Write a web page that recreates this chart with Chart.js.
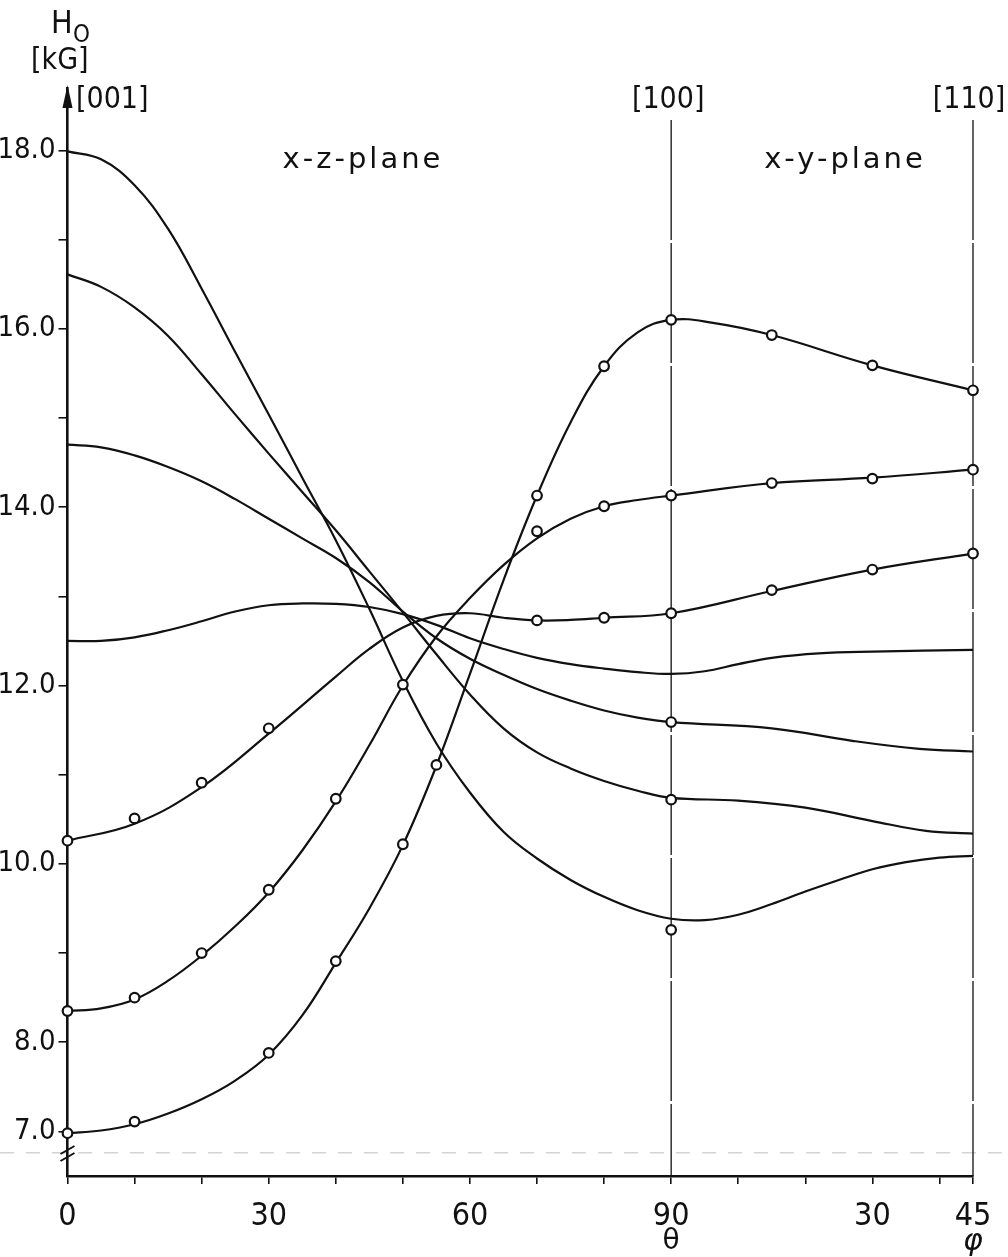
<!DOCTYPE html>
<html>
<head>
<meta charset="utf-8">
<script src="https://cdn.jsdelivr.net/npm/chart.js@4.4.1/dist/chart.umd.min.js"></script>
<style>
  html, body { margin: 0; padding: 0; background: #fff; }
  #wrap { width: 1008px; height: 1257px; }
</style>
</head>
<body>
<div id="wrap"><canvas id="chart" width="1008" height="1257"></canvas></div>
<script>
// x runs theta 0..90 (x-z-plane), then phi 0..45 (x-y-plane) drawn as 90..135
const xTicks = [0, 10, 20, 30, 40, 50, 60, 70, 80, 90, 100, 110, 120, 130, 135];
const xLabelAt = [0, 30, 60, 90, 120, 135];
const xLabelText = ['0', '30', '60', '90', '30', '45'];
const yTicks = [7, 8, 9, 10, 11, 12, 13, 14, 15, 16, 17, 18];
const yLabelAt = [7, 8, 10, 12, 14, 16, 18];

// drawn curves, H0 in kG
const curveA_x = [0, 5, 10, 15, 20, 25, 30, 35, 40, 45, 50, 55, 60, 65, 70, 75, 80, 85, 90, 95, 100, 105, 110, 115, 120, 125, 130, 135];
const curveA_y = [17.99, 17.9, 17.61, 17.12, 16.45, 15.74, 15.04, 14.33, 13.63, 12.86, 12.05, 11.35, 10.8, 10.36, 10.06, 9.82, 9.63, 9.48, 9.385, 9.37, 9.43, 9.55, 9.69, 9.82, 9.94, 10.02, 10.07, 10.09];

const curveB_x = [0, 5, 10, 15, 20, 25, 30, 35, 40, 45, 50, 55, 60, 65, 70, 75, 80, 85, 90, 100, 110, 120, 128, 135];
const curveB_y = [16.61, 16.47, 16.24, 15.92, 15.49, 15.04, 14.6, 14.17, 13.74, 13.28, 12.82, 12.35, 11.9, 11.52, 11.25, 11.07, 10.93, 10.82, 10.74, 10.71, 10.63, 10.48, 10.37, 10.34];

const curveC_x = [0, 5, 10, 15, 20, 25, 30, 35, 40, 45, 50, 55, 60, 65, 70, 75, 80, 85, 90, 105, 117, 127, 135];
const curveC_y = [14.7, 14.67, 14.58, 14.45, 14.29, 14.09, 13.87, 13.65, 13.43, 13.16, 12.83, 12.53, 12.3, 12.12, 11.96, 11.83, 11.72, 11.64, 11.59, 11.52, 11.38, 11.29, 11.26];

const curveD_x = [0, 5, 10, 15, 20, 25, 30, 35, 40, 45, 50, 55, 60, 65, 70, 75, 80, 85, 90, 95, 100, 105, 112, 120, 135];
const curveD_y = [12.5, 12.5, 12.54, 12.62, 12.72, 12.83, 12.9, 12.92, 12.915, 12.88, 12.8, 12.68, 12.53, 12.41, 12.31, 12.24, 12.19, 12.15, 12.13, 12.16, 12.24, 12.31, 12.36, 12.38, 12.4];

const curveE_x = [0, 10, 20, 30, 40, 45, 50, 55, 60, 65, 70, 75, 80, 90, 105, 120, 135];
const curveE_y = [10.26, 10.45, 10.86, 11.46, 12.1, 12.41, 12.65, 12.78, 12.81, 12.76, 12.73, 12.735, 12.76, 12.81, 13.06, 13.3, 13.48];

const curveF_x = [0, 5, 10, 15, 20, 25, 30, 35, 40, 45, 50, 55, 60, 65, 70, 75, 80, 85, 90, 105, 120, 135];
const curveF_y = [8.35, 8.38, 8.48, 8.69, 8.97, 9.3, 9.68, 10.15, 10.7, 11.33, 12.0, 12.55, 12.98, 13.35, 13.65, 13.87, 14.01, 14.08, 14.13, 14.27, 14.33, 14.42];

const curveG_x = [0, 5, 10, 15, 20, 25, 30, 35, 40, 45, 50, 55, 60, 65, 70, 75, 80, 85, 90, 96, 105, 120, 135];
const curveG_y = [6.98, 7.01, 7.08, 7.2, 7.36, 7.57, 7.86, 8.3, 8.89, 9.5, 10.21, 11.1, 12.13, 13.18, 14.13, 14.95, 15.58, 15.96, 16.1, 16.07, 15.93, 15.59, 15.31];

// measured points (open circles)
const pointsA_x = [90];
const pointsA_y = [9.26];
const pointsB_x = [90];
const pointsB_y = [10.72];
const pointsC_x = [90];
const pointsC_y = [11.59];
const pointsE_x = [0, 10, 20, 30, 70, 80, 90, 105, 120, 135];
const pointsE_y = [10.26, 10.51, 10.91, 11.52, 12.73, 12.76, 12.81, 13.07, 13.3, 13.48];
const pointsF_x = [0, 10, 20, 30, 40, 50, 70, 80, 90, 105, 120, 135];
const pointsF_y = [8.35, 8.5, 9.0, 9.71, 10.73, 12.01, 13.73, 14.01, 14.13, 14.27, 14.32, 14.42];
const pointsG_x = [0, 10, 30, 40, 50, 55, 70, 80, 90, 105, 120, 135];
const pointsG_y = [6.98, 7.11, 7.88, 8.91, 10.22, 11.11, 14.13, 15.58, 16.1, 15.93, 15.59, 15.31];

const narrow = '"Liberation Sans Narrow", "DejaVu Sans Condensed", "Liberation Sans", sans-serif';
const plain = '"DejaVu Sans", "Liberation Sans", sans-serif';

function pairs(xs, ys) {
    return xs.map((x, i) => ({ x: x, y: ys[i] }));
}

function curve(xs, ys) {
    return {
        type: 'line',
        data: pairs(xs, ys),
        borderColor: '#111',
        borderWidth: 2.2,
        pointRadius: 0,
        tension: 0.4,
        fill: false,
        order: 2
    };
}

function marks(xs, ys) {
    return {
        type: 'scatter',
        data: pairs(xs, ys),
        showLine: false,
        pointRadius: 4.8,
        pointBorderWidth: 2.2,
        pointBackgroundColor: '#fff',
        pointBorderColor: '#111',
        clip: false,
        order: 1
    };
}

const extras = {
    id: 'extras',
    beforeDatasetsDraw(chart) {
        const ctx = chart.ctx;
        const xs = chart.scales.x, ys = chart.scales.y;
        const area = chart.chartArea;
        ctx.save();
        // faint scan line at the axis break
        ctx.strokeStyle = '#d4d4d4';
        ctx.lineWidth = 1.5;
        ctx.setLineDash([14, 12]);
        const yb = ys.getPixelForValue(6.76);
        ctx.beginPath(); ctx.moveTo(0, yb); ctx.lineTo(1008, yb); ctx.stroke();
        // [100] and [110] direction lines
        ctx.strokeStyle = '#111';
        ctx.lineWidth = 1.3;
        ctx.setLineDash([120, 3]);
        [90, 135].forEach(v => {
            const px = xs.getPixelForValue(v);
            ctx.beginPath(); ctx.moveTo(px, 120); ctx.lineTo(px, area.bottom); ctx.stroke();
        });
        ctx.restore();
    },
    afterDraw(chart) {
        const ctx = chart.ctx;
        const xs = chart.scales.x;
        const area = chart.chartArea;
        const x0 = area.left;
        ctx.save();
        ctx.fillStyle = '#111';
        ctx.strokeStyle = '#111';
        // arrow head on the y axis
        ctx.beginPath();
        ctx.moveTo(x0, 85);
        ctx.lineTo(x0 - 5, 108);
        ctx.lineTo(x0 + 5, 108);
        ctx.closePath();
        ctx.fill();
        // axis break
        ctx.lineWidth = 2;
        ctx.beginPath();
        ctx.moveTo(x0 - 7, 1154); ctx.lineTo(x0 + 7, 1146);
        ctx.moveTo(x0 - 7, 1161); ctx.lineTo(x0 + 7, 1153);
        ctx.stroke();

        ctx.textBaseline = 'middle';
        ctx.textAlign = 'left';
        ctx.font = '32px ' + narrow;
        ctx.fillText('H', 51, 25);
        ctx.font = '24px ' + narrow;
        ctx.fillText('O', 73, 36);
        ctx.font = '30px ' + narrow;
        ctx.fillText('[kG]', 31, 61);
        ctx.font = '30px ' + narrow;
        ctx.fillText('[001]', 76, 100);
        ctx.textAlign = 'center';
        ctx.fillText('[100]', xs.getPixelForValue(90) - 3, 100);
        ctx.fillText('[110]', xs.getPixelForValue(135) - 4, 100);

        ctx.font = '29px ' + plain;
        if ('letterSpacing' in ctx) ctx.letterSpacing = '3px';
        ctx.fillText('x-z-plane', 363, 160);
        ctx.fillText('x-y-plane', 845, 160);
        if ('letterSpacing' in ctx) ctx.letterSpacing = '0px';

        ctx.font = '28px ' + plain;
        ctx.fillText('\u03b8', xs.getPixelForValue(90), 1242);
        ctx.font = 'italic 30px ' + plain;
        ctx.fillText('\u03c6', xs.getPixelForValue(135), 1242);
        ctx.restore();
    }
};

new Chart(document.getElementById('chart'), {
    data: {
        datasets: [
            curve(curveA_x, curveA_y),
            curve(curveB_x, curveB_y),
            curve(curveC_x, curveC_y),
            curve(curveD_x, curveD_y),
            curve(curveE_x, curveE_y),
            curve(curveF_x, curveF_y),
            curve(curveG_x, curveG_y),
            marks(pointsA_x, pointsA_y),
            marks(pointsB_x, pointsB_y),
            marks(pointsC_x, pointsC_y),
            marks(pointsE_x, pointsE_y),
            marks(pointsF_x, pointsF_y),
            marks(pointsG_x, pointsG_y)
        ]
    },
    options: {
        responsive: false,
        animation: false,
        layout: { padding: { top: 88, right: 35, left: 0, bottom: 0 } },
        plugins: { legend: { display: false }, tooltip: { enabled: false } },
        scales: {
            x: {
                type: 'linear',
                min: 0,
                max: 135,
                afterBuildTicks: s => { s.ticks = xTicks.map(v => ({ value: v })); },
                afterFit: s => { s.height = 81; },
                border: { display: true, color: '#111', width: 2.6 },
                grid: { drawOnChartArea: false, drawTicks: true, tickLength: 8, color: '#111', lineWidth: 1.6 },
                ticks: {
                    autoSkip: false,
                    maxRotation: 0,
                    padding: 13,
                    color: '#111',
                    font: { family: narrow, size: 32 },
                    callback: v => {
                        const i = xLabelAt.indexOf(v);
                        return i >= 0 ? xLabelText[i] : '';
                    }
                }
            },
            y: {
                type: 'linear',
                min: 6.5,
                max: 18.7,
                afterBuildTicks: s => { s.ticks = yTicks.map(v => ({ value: v })); },
                afterFit: s => { s.width = 67.5; },
                border: { display: true, color: '#111', width: 2.6 },
                grid: { drawOnChartArea: false, drawTicks: true, tickLength: 9, color: '#111', lineWidth: 1.6 },
                ticks: {
                    autoSkip: false,
                    padding: 3,
                    color: '#111',
                    font: { family: narrow, size: 29 },
                    callback: v => yLabelAt.includes(v) ? v.toFixed(1) : ''
                }
            }
        }
    },
    plugins: [extras]
});
</script>
</body>
</html>
